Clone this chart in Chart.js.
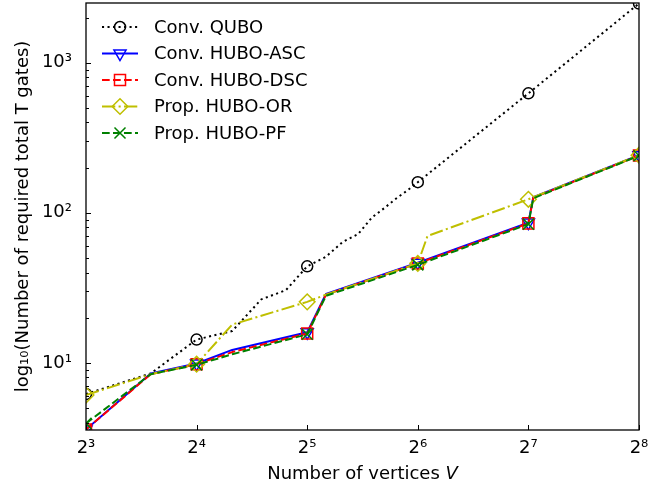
<!DOCTYPE html>
<html><head><meta charset="utf-8">
<script src="https://cdn.jsdelivr.net/npm/chart.js@4/dist/chart.umd.min.js"></script>
<style>html,body{margin:0;padding:0;background:#fff;}canvas{display:block;}</style>
</head><body>
<canvas id="c" width="670" height="489"></canvas>
<script>
// ---- data ----
const seriesNames = ['Conv. QUBO', 'Conv. HUBO-ASC', 'Conv. HUBO-DSC', 'Prop. HUBO-OR', 'Prop. HUBO-PF'];
const quboV = [8, 12, 16, 20, 24, 28, 32, 36, 40, 44, 48, 52, 56, 60, 64, 128, 256];
const quboT = [6.2, 8.5, 14.3, 16.3, 26.5, 30.5, 44, 51, 64, 72, 93, 108, 125, 141, 160, 625, 2480];
const ascV = [8, 12, 16, 20, 32, 36, 64, 128, 132, 256];
const ascT = [3.6, 8.5, 9.9, 12.2, 16.0, 28.8, 46.5, 86, 127, 242];
const dscV = [8, 12, 16, 20, 32, 36, 64, 128, 132, 256];
const dscT = [3.6, 8.4, 9.8, 11.8, 15.7, 28.5, 46, 85, 126, 241];
const orV = [8, 12, 16, 20, 32, 36, 64, 68, 128, 132, 256];
const orT = [6.1, 8.4, 9.8, 18, 25.5, 28.5, 46, 70, 123, 127, 242];
const pfV = [8, 12, 16, 20, 32, 36, 64, 128, 132, 256];
const pfT = [3.95, 8.4, 9.7, 11.4, 15.5, 28, 45, 84, 125, 240];
const xTicks = [8, 16, 32, 64, 128, 256];
const xTickLabels = ['2³', '2⁴', '2⁵', '2⁶', '2⁷', '2⁸'];
const yMajor = [10, 100, 1000];
const yTickLabels = ['10¹', '10²', '10³'];
const yMinor = [4, 5, 6, 7, 8, 9, 20, 30, 40, 50, 60, 70, 80, 90, 200, 300, 400, 500, 600, 700, 800, 900, 2000];
const xTitle = 'Number of vertices ';
const xTitleVar = 'V';
const yTitle = 'log₁₀(Number of required total T gates)';

// ---- styles ----
const FONT = '"DejaVu Sans", sans-serif';
const FS = 18;
const styles = [
  {color: '#000000', dash: [2.08, 3.43], point: 'circle', r: 5.5, rot: 0},
  {color: '#0000ff', dash: [], point: 'triangle', r: 7, rot: 180},
  {color: '#ff0000', dash: [7.7, 3.3], point: 'rect', r: 7.8, rot: 0},
  {color: '#bfbf00', dash: [13.3, 3.3, 2.08, 3.3], point: 'rectRot', r: 7.8, rot: 0},
  {color: '#008000', dash: [7.7, 3.3], point: 'crossRot', r: 7.8, rot: 0}
];
const seriesData = [[quboV, quboT], [ascV, ascT], [dscV, dscT], [orV, orT], [pfV, pfT]];
const isPow2 = v => (v & (v - 1)) === 0;

const datasets = seriesData.map(([V, T], i) => {
  const st = styles[i];
  return {
    label: seriesNames[i],
    data: V.map((v, k) => ({x: v, y: T[k]})),
    borderColor: st.color,
    backgroundColor: 'rgba(0,0,0,0)',
    borderWidth: 2,
    borderDash: st.dash,
    borderJoinStyle: 'round',
    pointStyle: st.point,
    pointRotation: st.rot,
    pointRadius: c => (c.raw && isPow2(c.raw.x)) ? st.r : 0,
    pointHoverRadius: c => (c.raw && isPow2(c.raw.x)) ? st.r : 0,
    pointBorderColor: st.color,
    pointBackgroundColor: 'rgba(0,0,0,0)',
    pointBorderWidth: 1.5,
    tension: 0,
    fill: false,
    clip: 0,
    order: 5 - i
  };
});

const decor = {
  id: 'decor',
  afterDatasetsDraw(chart) {
    const {ctx, chartArea: a, scales: {x, y}} = chart;
    ctx.save();
    ctx.strokeStyle = '#000';
    ctx.lineWidth = 1;
    ctx.setLineDash([]);
    ctx.beginPath();
    x.ticks.forEach(t => {
      const px = Math.round(x.getPixelForValue(t.value)) + 0.5;
      ctx.moveTo(px, a.bottom); ctx.lineTo(px, a.bottom - 5);
    });
    y.ticks.forEach(t => {
      const py = Math.round(y.getPixelForValue(t.value)) + 0.5;
      const len = yMajor.includes(t.value) ? 5 : 3;
      ctx.moveTo(a.left, py); ctx.lineTo(a.left + len, py);
    });
    ctx.stroke();
    ctx.lineWidth = 1.3;
    ctx.strokeRect(a.left, a.top, a.right - a.left, a.bottom - a.top);
    ctx.restore();
  },
  afterDraw(chart) {
    const {ctx, chartArea: a} = chart;
    ctx.save();
    ctx.fillStyle = '#000';
    // x title
    ctx.font = FS + 'px ' + FONT;
    const w1 = ctx.measureText(xTitle).width;
    ctx.font = 'italic ' + FS + 'px ' + FONT;
    const w2 = ctx.measureText(xTitleVar).width;
    const cx = (a.left + a.right) / 2;
    let sx = cx - (w1 + w2) / 2;
    ctx.textBaseline = 'middle';
    ctx.textAlign = 'left';
    ctx.font = FS + 'px ' + FONT;
    ctx.fillText(xTitle, sx, 474);
    ctx.font = 'italic ' + FS + 'px ' + FONT;
    ctx.fillText(xTitleVar, sx + w1, 474);
    // y title
    ctx.save();
    ctx.translate(23, (a.top + a.bottom) / 2);
    ctx.rotate(-Math.PI / 2);
    ctx.font = FS + 'px ' + FONT;
    ctx.textAlign = 'center';
    ctx.fillText(yTitle, 0, 0);
    ctx.restore();
    // legend
    const drawPoint = Chart.helpers && Chart.helpers.drawPoint;
    seriesNames.forEach((name, i) => {
      const st = styles[i];
      const ly = 27 + i * 26.5;
      ctx.save();
      ctx.strokeStyle = st.color;
      ctx.lineWidth = 2;
      ctx.setLineDash(st.dash);
      ctx.beginPath();
      ctx.moveTo(102, ly); ctx.lineTo(138, ly);
      ctx.stroke();
      ctx.setLineDash([]);
      ctx.lineWidth = 1.5;
      ctx.fillStyle = 'rgba(0,0,0,0)';
      if (drawPoint) drawPoint(ctx, {pointStyle: st.point, rotation: st.rot, radius: st.r, borderWidth: 1.5}, 120, ly);
      ctx.restore();
      ctx.fillStyle = '#000';
      ctx.font = FS + 'px ' + FONT;
      ctx.textAlign = 'left';
      ctx.textBaseline = 'middle';
      ctx.fillText(name, 154, ly + 1);
    });
    ctx.restore();
  }
};

new Chart(document.getElementById('c'), {
  type: 'line',
  data: {datasets},
  options: {
    responsive: false,
    animation: false,
    devicePixelRatio: 1,
    events: [],
    layout: {autoPadding: false, padding: {left: 0, right: 31, top: 3, bottom: 0}},
    plugins: {legend: {display: false}, tooltip: {enabled: false}},
    scales: {
      x: {
        type: 'logarithmic',
        min: 8, max: 256,
        afterBuildTicks: s => { s.ticks = xTicks.map(v => ({value: v})); },
        afterFit: s => { s.height = 59; s.paddingLeft = 0; s.paddingRight = 0; },
        grid: {display: false, drawTicks: false},
        border: {display: false},
        ticks: {
          autoSkip: false, maxRotation: 0, padding: 8, color: '#000',
          font: {family: FONT, size: FS},
          callback: v => { const k = xTicks.indexOf(v); return k >= 0 ? xTickLabels[k] : ''; }
        }
      },
      y: {
        type: 'logarithmic',
        min: 3.57, max: 2500,
        afterBuildTicks: s => {
          s.ticks = yMinor.concat(yMajor).sort((p, q) => p - q).map(v => ({value: v, major: yMajor.includes(v)}));
        },
        afterFit: s => { s.width = 86; s.paddingTop = 0; s.paddingBottom = 0; },
        grid: {display: false, drawTicks: false},
        border: {display: false},
        ticks: {
          autoSkip: false, padding: 14, color: '#000',
          font: {family: FONT, size: FS},
          callback: v => { const k = yMajor.indexOf(v); return k >= 0 ? yTickLabels[k] : ''; }
        }
      }
    }
  },
  plugins: [decor]
});
</script>
</body></html>
